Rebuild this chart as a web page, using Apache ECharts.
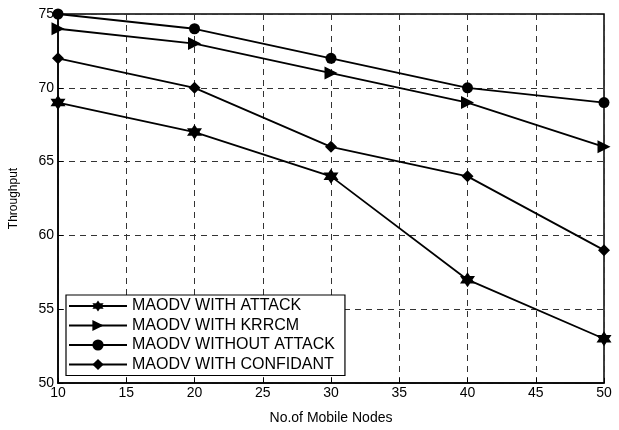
<!DOCTYPE html>
<html><head><meta charset="utf-8">
<script src="https://cdn.jsdelivr.net/npm/echarts@6/dist/echarts.min.js"></script>
<style>html,body{margin:0;padding:0;background:#fff}#c{width:619px;height:430px}</style>
</head><body><div id="c"></div>
<script>
var nodes = [10, 20, 30, 40, 50];
var withAttack = [69, 67, 64, 57, 53];
var withKrrcm = [74, 73, 71, 69, 66];
var withoutAttack = [75, 74, 72, 70, 69];
var withConfidant = [72, 70, 66, 64, 59];
var seriesNames = ['MAODV WITH ATTACK', 'MAODV WITH KRRCM', 'MAODV WITHOUT ATTACK', 'MAODV WITH CONFIDANT'];

var star = 'path://M0,-10 L2.89,-5 L8.66,-5 L5.77,0 L8.66,5 L2.89,5 L0,10 L-2.89,5 L-8.66,5 L-5.77,0 L-8.66,-5 L-2.89,-5 Z';
var triR = 'path://M0,0 L10,5 L0,10 Z';
var font = 'Liberation Sans, Arial, sans-serif';

function pairs(arr){ return nodes.map(function(x,i){ return [x, arr[i]]; }); }
function mk(name, data, symbol, size){
  return {name:name, type:'line', data:pairs(data), symbol:symbol, symbolSize:size,
    showAllSymbol:true, lineStyle:{color:'#000', width:1.8}, itemStyle:{color:'#000'},
    emphasis:{disabled:true}, animation:false};
}
var chart = echarts.init(document.getElementById('c'));
chart.setOption({
  backgroundColor:'#fff',
  animation:false,
  grid:{left:57, right:15, top:14, bottom:44, show:true, borderColor:'#000', borderWidth:1.5, backgroundColor:'transparent'},
  legend:{
    orient:'vertical', left:66, top:295, itemWidth:58, itemHeight:14, itemGap:3.5,
    backgroundColor:'#fff', borderColor:'#000', borderWidth:1.2, padding:[3,10,3,2],
    textStyle:{color:'#000', fontFamily:font, fontSize:16},
    data:seriesNames
  },
  xAxis:{type:'value', min:10, max:50, interval:5,
    name:'No.of Mobile Nodes', nameLocation:'middle', nameGap:28,
    nameTextStyle:{color:'#000', fontFamily:font, fontSize:14},
    axisLine:{lineStyle:{color:'#000', width:1.5}},
    axisTick:{inside:true, length:5, lineStyle:{color:'#000'}},
    axisLabel:{color:'#000', fontFamily:font, fontSize:14, margin:3},
    splitLine:{show:true, lineStyle:{color:'#333', type:[6,5], width:1}}
  },
  yAxis:{type:'value', min:50, max:75, interval:5,
    name:'Throughput', nameLocation:'middle', nameGap:38,
    nameTextStyle:{color:'#000', fontFamily:font, fontSize:12},
    axisLine:{show:true, lineStyle:{color:'#000', width:1.5}},
    axisTick:{show:true, inside:true, length:5, lineStyle:{color:'#000'}},
    axisLabel:{color:'#000', fontFamily:font, fontSize:14, margin:4},
    splitLine:{show:true, lineStyle:{color:'#333', type:[6,5], width:1}}
  },
  series:[
    mk(seriesNames[0], withAttack, star, 15),
    mk(seriesNames[1], withKrrcm, triR, 13),
    mk(seriesNames[2], withoutAttack, 'circle', 11),
    mk(seriesNames[3], withConfidant, 'diamond', 12)
  ]
});
</script></body></html>
